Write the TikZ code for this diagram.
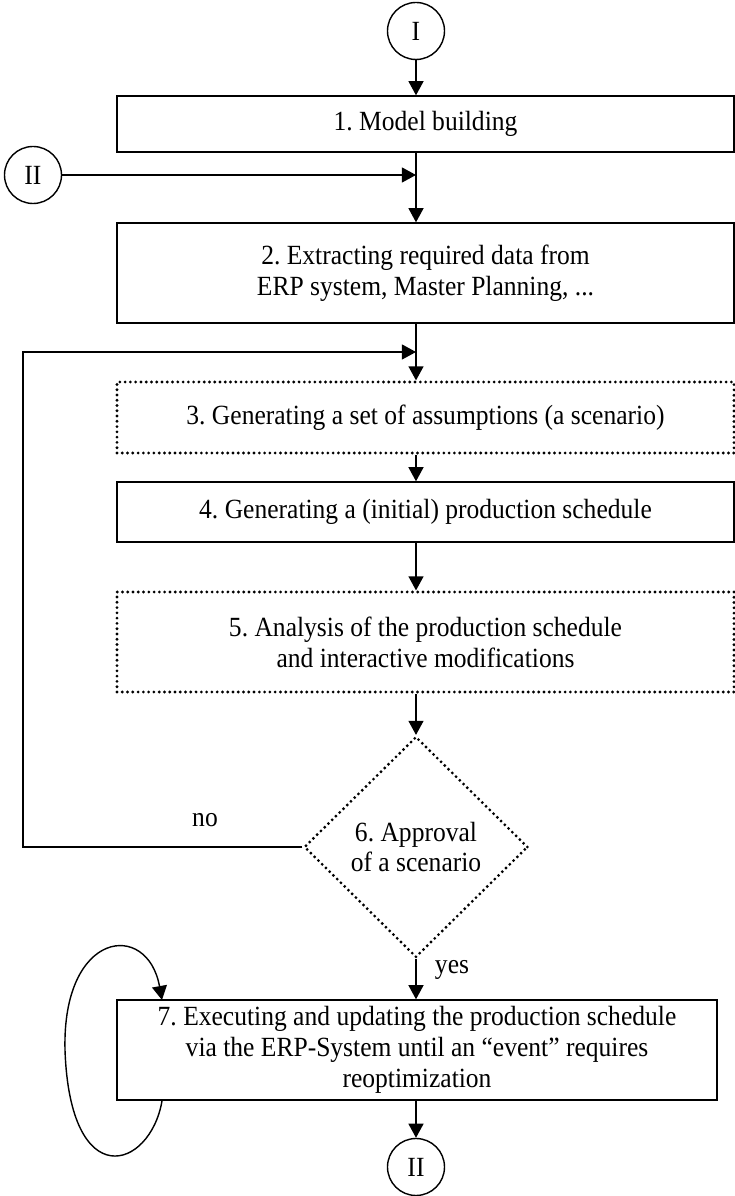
\documentclass[tikz,border=0pt]{standalone}
\usepackage{fontspec}
\setmainfont{Liberation Serif}[FakeStretch=0.92]
\usetikzlibrary{shapes.geometric,arrows.meta}
\frenchspacing
\begin{document}
\begin{tikzpicture}[x=1cm,y=1cm,
  every node/.style={font=\fontsize{15.8}{17.5}\selectfont},
  procbox/.style={draw,line width=0.8pt,minimum width=12.34cm,inner sep=0pt,align=center},
  dotbox/.style={procbox,line width=1.8pt,line cap=round,dash pattern=on 0pt off 3pt},
  connector/.style={draw,circle,line width=0.8pt,minimum size=1.14cm,inner sep=0pt},
  arr/.style={line width=0.8pt,-{Triangle[length=8pt,width=8.5pt]}},
  ln/.style={line width=0.8pt}]
\path[use as bounding box] (0,0) rectangle (14.70,23.92);
% connectors and steps
\node[connector] (cI) at (8.32,23.30) {I};
\node[procbox,minimum height=1.12cm] (s1) at (8.51,21.44) {1. Model building};
\node[connector] (cIIa) at (0.66,20.42) {II};
\coordinate (j1) at (8.32,20.42);
\node[procbox,minimum height=2.00cm] (s2) at (8.51,18.46) {2. Extracting required data from\\ERP system, Master Planning, ...};
\coordinate (j2) at (8.32,16.88);
\node[dotbox,minimum height=1.42cm] (s3) at (8.51,15.57) {3. Generating a set of assumptions (a scenario)};
\node[procbox,minimum height=1.20cm] (s4) at (8.51,13.68) {4. Generating a (initial) production schedule};
\node[dotbox,minimum height=2.00cm] (s5) at (8.51,11.08) {5. Analysis of the production schedule\\and interactive modifications};
\node[diamond,draw,line width=1.8pt,line cap=round,dash pattern=on 0pt off 3pt,minimum width=4.48cm,minimum height=4.42cm,inner sep=0pt,align=center] (s6) at (8.32,6.98) {6. Approval\\of a scenario};
\coordinate (lp) at (0.46,6.98);
\node (no) at (4.10,7.52) {no};
\node[procbox,minimum width=12.00cm,minimum height=2.00cm] (s7) at (8.34,2.92) {7. Executing and updating the production schedule\\via the ERP-System until an “event” requires\\reoptimization};
\node (yes) at (9.04,4.52) {yes};
\node[connector] (cIIb) at (8.32,0.58) {II};
\coordinate (lpS) at (3.24,1.90);
\coordinate (lpN) at (3.24,3.92);
% flow
\draw[arr] (cI) -- (cI |- s1.north);
\draw[ln] (s1.south -| cI) -- (j1);
\draw[arr] (cIIa) -- (j1);
\draw[arr] (j1) -- (j1 |- s2.north);
\draw[ln] (s2.south -| cI) -- (j2);
\draw[arr] (j2) -- (j2 |- s3.north);
\draw[arr] (s3.south -| cI) -- (s4.north -| cI);
\draw[arr] (s4.south -| cI) -- (s5.north -| cI);
\draw[arr] (s5.south -| cI) -- (s6.north);
\draw[arr] (s6.west) -- (lp) |- (j2);
\draw[arr] (s6.south) -- (s6.south |- s7.north);
\draw[arr] (s7.south -| cI) -- (cIIb);
% self loop
\draw[arr] (lpS) .. controls (3.00,0.52) and (1.40,0.02) .. (1.30,2.92) .. controls (1.24,5.32) and (2.95,5.52) .. (lpN);
\end{tikzpicture}
\end{document}
